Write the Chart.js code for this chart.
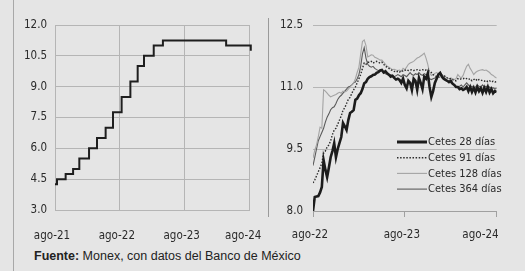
<!DOCTYPE html>
<html>
<head>
<meta charset="utf-8">
<script src="https://cdn.jsdelivr.net/npm/chart.js@4.4.1/dist/chart.umd.min.js"></script>
<style>
  html, body { margin: 0; padding: 0; }
  body { width: 525px; height: 271px; background: #e5e5e5; position: relative; overflow: hidden; }
  #leftLine { position: absolute; left: 13px; top: 0; width: 1px; height: 271px; background: #a8a8a8; }
  #sep { position: absolute; left: 268px; top: 18px; width: 1px; height: 199px; background: #9a9a9a; }
  #c1 { position: absolute; left: 14px; top: 5px; }
  #c2 { position: absolute; left: 269px; top: 5px; }
  #src { position: absolute; left: 34px; top: 249px; font: 12.5px 'Liberation Sans', Arial, sans-serif; color: #222; white-space: nowrap; }
</style>
</head>
<body>
<div id="leftLine"></div>
<div id="sep"></div>
<canvas id="c1" width="276" height="241"></canvas>
<canvas id="c2" width="270" height="241"></canvas>
<div id="src"><b>Fuente:</b> Monex, con datos del Banco de México</div>
<script>
// left panel: tasa objetivo, months since ago-21
const leftTicks = ['ago-21', 'ago-22', 'ago-23', 'ago-24'];
const leftMonths = [0, 0.37, 1.97, 3.35, 4.5, 6.3, 7.77, 9.37, 10.73, 12.33, 13.95, 15.3, 16.47, 18.27, 19.97, 31.67, 36.23, 36.5];
const leftRate = [4.25, 4.5, 4.75, 5.0, 5.5, 6.0, 6.5, 7.0, 7.75, 8.5, 9.25, 10.0, 10.5, 11.0, 11.25, 11.0, 10.75, 10.75];

// right panel: weekly Cetes yields since ago-22
const rightTicks = ['ago-22', 'ago-23', 'ago-24'];
const seriesNames = ['Cetes 28 días', 'Cetes 91 días', 'Cetes 128 días', 'Cetes 364 días'];
const cetes28 = [8.0, 8.34, 8.35, 8.36, 8.45, 8.58, 9.23, 9.0, 8.82, 9.05, 9.3, 9.45, 9.64, 9.3, 9.5, 9.65, 9.79, 10.13, 10.05, 9.96,
  10.2, 10.37, 10.4, 10.44, 10.69, 10.72, 10.8, 10.85, 10.95, 11.09, 11.12, 11.2, 11.24, 11.26, 11.29, 11.3, 11.34, 11.36, 11.4, 11.41,
  11.35, 11.38, 11.33, 11.3, 11.25, 11.27, 11.22, 11.18, 11.2, 11.17, 11.1, 11.2, 11.05, 10.97, 11.15, 11.1, 10.93, 11.2, 11.15, 10.93,
  11.22, 11.1, 10.95, 11.25, 11.2, 11.33, 11.0, 10.76, 10.9, 11.1, 11.2, 11.3, 11.34, 11.25, 11.2, 11.17, 11.15, 11.12, 11.15, 11.08,
  11.05, 11.0, 11.0, 10.95, 10.97, 10.93, 10.95, 11.0, 10.9, 11.0, 10.88, 10.98, 10.87, 11.0, 10.9, 10.97, 10.86, 10.98, 10.88, 11.0,
  10.87, 10.95, 10.85, 10.9, 10.88];
const cetes91 = [8.68, 8.75, 8.85, 8.95, 9.05, 9.15, 9.4, 9.45, 9.55, 9.6, 9.7, 9.85, 9.96, 10.0, 10.1, 10.2, 10.3, 10.44, 10.5, 10.6,
  10.7, 10.75, 10.85, 10.93, 11.0, 11.1, 11.2, 11.3, 11.45, 11.58, 11.55, 11.6, 11.6, 11.62, 11.58, 11.6, 11.62, 11.6, 11.58, 11.6,
  11.55, 11.5, 11.48, 11.45, 11.42, 11.4, 11.38, 11.36, 11.38, 11.36, 11.4, 11.38, 11.4, 11.42, 11.4, 11.41, 11.42, 11.4, 11.41, 11.42,
  11.4, 11.41, 11.42, 11.4, 11.41, 11.4, 11.38, 11.35, 11.3, 11.28, 11.25, 11.24, 11.24, 11.26, 11.28, 11.25, 11.22, 11.2, 11.2, 11.18,
  11.15, 11.15, 11.2, 11.18, 11.2, 11.2, 11.22, 11.2, 11.18, 11.2, 11.15, 11.18, 11.2, 11.15, 11.18, 11.17, 11.15, 11.14, 11.16, 11.13,
  11.15, 11.12, 11.14, 11.12, 11.13];
const cetes128 = [9.28, 9.47, 9.6, 9.8, 10.03, 10.0, 10.93, 10.9, 10.85, 10.8, 10.76, 10.78, 10.8, 10.82, 10.85, 10.87, 10.85, 10.9, 10.88, 10.9,
  10.95, 11.0, 11.05, 11.1, 11.2, 11.35, 11.48, 11.8, 12.1, 12.14, 12.0, 11.73, 11.75, 11.78, 11.77, 11.72, 11.7, 11.68, 11.65, 11.65,
  11.6, 11.55, 11.5, 11.48, 11.45, 11.42, 11.43, 11.41, 11.4, 11.41, 11.38, 11.45, 11.42, 11.48, 11.55, 11.58, 11.6, 11.62, 11.66, 11.7,
  11.72, 11.75, 11.78, 11.82, 11.7, 11.55, 11.35, 11.28, 11.3, 11.33, 11.35, 11.32, 11.3, 11.28, 11.26, 11.25, 11.22, 11.2, 11.22, 11.2,
  11.18, 11.2, 11.3, 11.25, 11.22, 11.28, 11.4, 11.5, 11.55, 11.45, 11.38, 11.3, 11.35, 11.38, 11.4, 11.41, 11.42, 11.4, 11.41, 11.38,
  11.35, 11.3, 11.28, 11.24, 11.22];
const cetes364 = [9.1, 9.3, 9.5, 9.7, 9.8, 9.9, 10.0, 10.15, 10.27, 10.35, 10.45, 10.5, 10.52, 10.6, 10.7, 10.76, 10.8, 10.85, 10.9, 10.95,
  11.0, 11.02, 11.05, 11.1, 11.12, 11.2, 11.3, 11.5, 11.8, 11.95, 11.7, 11.55, 11.5, 11.48, 11.5, 11.45, 11.42, 11.4, 11.38, 11.4,
  11.35, 11.32, 11.3, 11.28, 11.3, 11.28, 11.25, 11.27, 11.3, 11.28, 11.25, 11.3, 11.28, 11.25, 11.3, 11.35, 11.3, 11.28, 11.32, 11.3,
  11.35, 11.3, 11.28, 11.32, 11.3, 11.25, 11.2, 11.18, 11.2, 11.22, 11.25, 11.3, 11.35, 11.3, 11.25, 11.2, 11.15, 11.12, 11.1, 11.08,
  11.05, 11.02, 11.0, 11.02, 11.05, 11.0, 11.05, 11.1, 11.05, 11.0, 11.02, 10.98, 11.0, 11.05, 11.02, 11.0, 11.05, 11.0, 11.02, 10.98,
  11.0, 10.97, 10.98, 10.95, 10.97];

const tickFont = { family: "'DejaVu Sans Condensed', 'Liberation Sans Narrow', sans-serif", size: 11.5 };
const textColor = '#2a2a2a';
const gridColor = '#b5b5b5';
const pad = (s, n) => s + '\u2007'.repeat(n);   // pushes the last label back inside

const toXY = (arr) => arr.map((v, i) => ({ x: i, y: v }));

// left chart
new Chart(document.getElementById('c1'), {
  type: 'line',
  data: {
    datasets: [{
      data: leftMonths.map((m, i) => ({ x: m, y: leftRate[i] })),
      borderColor: '#1e1e1e',
      borderWidth: 2,
      stepped: true,
      pointRadius: 0,
      clip: 5
    }]
  },
  options: {
    responsive: false,
    animation: false,
    layout: { padding: { top: 20, right: 38, left: 0, bottom: 0 } },
    plugins: { legend: { display: false }, tooltip: { enabled: false } },
    scales: {
      x: {
        type: 'linear', min: 0, max: 36,
        afterFit: (s) => { s.height = 36; },
        grid: { color: gridColor, drawTicks: false },
        border: { color: gridColor },
        ticks: { stepSize: 12, padding: 19, labelOffset: -3, color: textColor, font: tickFont, maxRotation: 0,
          callback: (v) => v === 36 ? pad(leftTicks[3], 1) : leftTicks[v / 12] }
      },
      y: {
        min: 3, max: 12,
        afterFit: (s) => { s.width = 41; },
        grid: { color: gridColor, drawTicks: false },
        border: { color: gridColor },
        ticks: { stepSize: 1.5, padding: 8, color: textColor, font: tickFont,
          callback: (v) => v.toFixed(1) }
      }
    }
  }
});

// right chart
const styles = [
  { color: '#1c1c1c', width: 2.6, dash: [] },
  { color: '#2c2c2c', width: 1.4, dash: [1.5, 1.6] },
  { color: '#a4a4a4', width: 1.1, dash: [] },
  { color: '#5a5a5a', width: 1.1, dash: [] }
];
const series = [cetes28, cetes91, cetes128, cetes364];

const legendPlugin = {
  id: 'innerLegend',
  afterDraw(chart) {
    const ctx = chart.ctx;
    const x0 = 128, y0 = 137, gap = 15.7;
    chart.data.datasets.forEach((ds, i) => {
      const y = y0 + i * gap;
      ctx.save();
      ctx.strokeStyle = ds.borderColor;
      ctx.lineWidth = i === 0 ? 3 : ds.borderWidth;
      ctx.setLineDash(ds.borderDash || []);
      ctx.beginPath();
      ctx.moveTo(x0, y);
      ctx.lineTo(x0 + 30, y);
      ctx.stroke();
      ctx.setLineDash([]);
      ctx.fillStyle = textColor;
      ctx.font = "11px 'DejaVu Sans Condensed', 'Liberation Sans Narrow', sans-serif";
      ctx.textBaseline = 'middle';
      ctx.fillText(ds.label, x0 + 31, y + 0.5);
      ctx.restore();
    });
  }
};

new Chart(document.getElementById('c2'), {
  type: 'line',
  data: {
    datasets: series.map((s, i) => ({
      label: seriesNames[i],
      data: toXY(s),
      borderColor: styles[i].color,
      borderWidth: styles[i].width,
      borderDash: styles[i].dash,
      pointRadius: 0,
      tension: 0
    }))
  },
  options: {
    responsive: false,
    animation: false,
    layout: { padding: { top: 20, right: 32, left: 0, bottom: 0 } },
    plugins: { legend: { display: false }, tooltip: { enabled: false } },
    scales: {
      x: {
        type: 'linear', min: 0, max: 104,
        afterFit: (s) => { s.height = 35; },
        grid: { color: '#a0a0a0', drawOnChartArea: false, drawTicks: true, tickLength: 6 },
        border: { color: '#a0a0a0' },
        ticks: { stepSize: 52, padding: 11, labelOffset: -3, color: textColor, font: tickFont, maxRotation: 0,
          callback: (v) => v === 104 ? pad(rightTicks[2], 4) : rightTicks[v / 52] }
      },
      y: {
        min: 8, max: 12.5,
        afterFit: (s) => { s.width = 44; },
        grid: { color: gridColor, drawTicks: false },
        border: { display: false },
        ticks: { stepSize: 1.5, padding: 10, color: textColor, font: tickFont,
          callback: (v) => v.toFixed(1) }
      }
    }
  },
  plugins: [legendPlugin]
});
</script>
</body>
</html>
